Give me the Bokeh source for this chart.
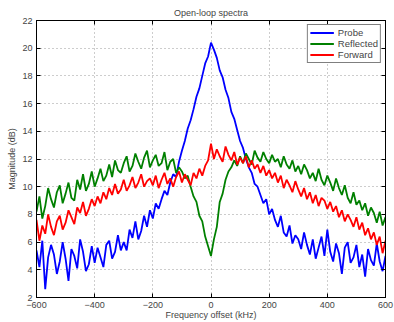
from bokeh.plotting import figure
from bokeh.models import FixedTicker, LinearAxis, Range1d, Legend, LegendItem, CustomJSTickFormatter
from bokeh.embed import file_html
from bokeh.resources import INLINE

freq = list(range(-600, 610, 10))

probe = [
    5.4, 4.2, 6.1, 2.6, 4.9, 5.8, 5.1, 3.7, 4.6, 6.0,
    4.8, 3.2, 5.5, 5.0, 4.1, 6.2, 5.3, 3.9, 4.4, 5.7,
    4.5, 5.6, 4.9, 4.2, 5.8, 6.1, 4.8, 5.3, 6.5, 5.4,
    6.0, 5.4, 6.9, 6.3, 7.5, 6.2, 6.8, 7.9, 7.1, 8.3,
    7.7, 8.8, 8.4, 9.1, 9.7, 9.4, 10.3, 10.9, 10.7, 11.8,
    12.6, 13.3, 14.2, 14.8, 15.6, 16.5, 17.1, 18.0, 18.9, 19.4,
    20.4,
    19.9, 19.3, 18.4, 17.9, 17.0, 16.4, 15.4, 14.9, 14.1, 13.3,
    12.8, 12.0, 11.4, 11.0, 10.2, 10.0, 9.4, 8.8, 9.1, 8.0,
    8.4, 7.6, 7.1, 7.9, 6.7, 6.4, 7.2, 5.9, 6.5, 6.2,
    5.5, 6.7, 5.8, 5.1, 6.2, 4.8, 5.6, 6.4, 5.0, 6.9,
    5.3, 4.6, 5.9, 5.2, 3.7, 5.6, 6.0, 4.5, 4.9, 5.8,
    4.2, 5.1, 3.5, 5.5, 4.7, 4.3, 5.9, 4.6, 3.9, 5.0,
]

reflected = [
    8.2, 9.3, 7.7, 8.6, 9.9, 9.1, 8.5, 9.6, 10.1, 8.8,
    9.5, 10.3, 9.2, 9.0, 10.5, 9.8, 10.9, 9.7, 10.2, 11.1,
    10.0, 10.6, 11.3, 10.4, 10.8, 11.6, 10.7, 11.9, 11.2, 11.0,
    11.7, 12.2, 11.1, 11.5, 12.4, 11.8, 11.3, 12.1, 12.6, 11.4,
    11.9, 12.3, 11.5, 11.7, 12.5, 11.2, 11.8, 12.0, 11.0, 11.4,
    11.1, 10.6, 10.8, 10.0, 9.3, 8.9, 7.9, 7.5, 6.4, 5.7,
    5.0,
    6.2, 7.1, 8.9, 9.5, 10.5, 11.1, 11.4, 11.9, 11.5, 12.2,
    11.7, 12.4, 12.0, 11.6, 12.6, 12.1, 11.8, 12.5, 12.0, 11.7,
    12.3, 11.8, 12.0, 11.4, 12.2, 11.6, 11.3, 11.9, 11.1, 11.5,
    10.9, 11.6, 11.2, 10.6, 11.0, 10.4, 11.3, 10.5, 10.1, 10.8,
    10.3, 9.7, 10.6, 9.9, 9.4, 10.1, 9.2, 8.8, 9.6, 8.7,
    9.0, 8.3, 8.8, 7.9, 8.5, 8.1, 7.4, 8.2, 7.2, 7.8,
]

forward = [
    7.6, 6.1, 7.2, 6.6, 8.0, 7.1, 6.5, 7.5, 7.9, 6.9,
    7.4, 8.3, 7.8, 7.3, 8.5, 8.1, 8.9, 7.9, 8.4, 9.1,
    8.6, 9.3, 8.8, 9.6, 9.1, 9.9, 9.4, 10.2, 9.5, 9.8,
    10.5, 9.7, 10.1, 10.7, 9.9, 10.3, 10.9, 10.0, 10.4, 10.6,
    10.1, 10.8, 9.9, 10.5, 11.0, 10.2, 10.6, 10.0, 10.7, 11.1,
    10.3, 10.9, 10.5, 10.1, 11.0, 10.6, 11.3, 10.8, 11.5, 11.9,
    13.1,
    12.0, 12.7, 12.2, 11.8, 12.9, 12.3, 11.9, 12.5, 11.6, 12.1,
    11.7, 12.2, 11.4, 11.9, 11.3, 11.6, 11.0, 11.5, 10.8, 11.2,
    10.6, 11.0, 10.3, 10.8, 9.9, 10.5, 10.1, 9.6, 10.4, 9.8,
    9.3, 9.9, 9.1, 9.6, 8.8, 9.4, 8.6, 9.2, 9.0, 8.4,
    8.9, 8.2, 8.6, 7.8, 8.3, 7.5, 8.0, 7.6, 7.1, 7.8,
    6.9, 7.4, 6.5, 7.0, 6.2, 6.7, 5.8, 6.4, 5.2, 6.1,
]

series_names = ["Probe", "Reflected", "Forward"]
series_colors = ["#0000ff", "#008000", "#ff0000"]
x_ticks = [-600, -400, -200, 0, 200, 400, 600]
y_ticks = [2, 4, 6, 8, 10, 12, 14, 16, 18, 20, 22]

FONT = "Liberation Sans"

p = figure(width=394, height=322, x_range=Range1d(-600, 600), y_range=Range1d(2, 22),
           output_backend="svg", toolbar_location=None, title="Open-loop spectra",
           min_border_left=36, min_border_right=9, min_border_top=20, min_border_bottom=0)

p.title.text_font = FONT
p.title.text_font_size = "9px"
p.title.text_font_style = "normal"
p.title.align = "center"
p.title.standoff = 5

items = []
for name, col, ys in zip(series_names, series_colors, [probe, reflected, forward]):
    r = p.line(freq, ys, line_color=col, line_width=1.8)
    items.append(LegendItem(label=name, renderers=[r]))

legend = Legend(items=items, location="top_right")
legend.label_text_font = FONT
legend.label_text_font_size = "9.5px"
legend.glyph_width = 24
legend.glyph_height = 9
legend.label_height = 9
legend.spacing = 0
legend.padding = 2
legend.margin = 4
legend.label_standoff = 4
legend.border_line_color = "black"
legend.border_line_width = 1
legend.background_fill_alpha = 1
p.add_layout(legend)

for ax in [p.xaxis[0], p.yaxis[0]]:
    ax.major_tick_in = 4
    ax.major_tick_out = 0
    ax.minor_tick_in = 0
    ax.minor_tick_out = 0
    ax.axis_line_color = "black"
    ax.axis_line_width = 1
    ax.major_label_text_font = FONT
    ax.major_label_text_font_size = "9px"
    ax.axis_label_text_font = FONT
    ax.axis_label_text_font_size = "9px"
    ax.axis_label_text_font_style = "normal"

p.xaxis[0].major_label_standoff = 4
p.xaxis[0].axis_label_standoff = -1
p.yaxis[0].major_label_standoff = 4
p.yaxis[0].axis_label_standoff = 2

p.xaxis[0].ticker = FixedTicker(ticks=x_ticks)
p.yaxis[0].ticker = FixedTicker(ticks=y_ticks)
p.xaxis[0].axis_label = "Frequency offset (kHz)"
p.yaxis[0].axis_label = "Magnitude (dB)"

for loc, t in [("above", x_ticks), ("right", y_ticks)]:
    ax = LinearAxis(ticker=FixedTicker(ticks=t))
    ax.formatter = CustomJSTickFormatter(code="return '';")
    ax.major_tick_in = 4
    ax.major_tick_out = 0
    ax.minor_tick_in = 0
    ax.minor_tick_out = 0
    ax.major_label_standoff = 0
    ax.axis_line_color = "black"
    p.add_layout(ax, loc)

p.xgrid.ticker = FixedTicker(ticks=x_ticks)
p.ygrid.ticker = FixedTicker(ticks=y_ticks)
p.grid.grid_line_color = "#9a9a9a"
p.grid.grid_line_dash = "1 3"
p.grid.grid_line_width = 1
p.outline_line_color = "black"
p.background_fill_color = "white"
p.border_fill_color = "white"

open("out.html", "w").write(file_html(p, INLINE))
